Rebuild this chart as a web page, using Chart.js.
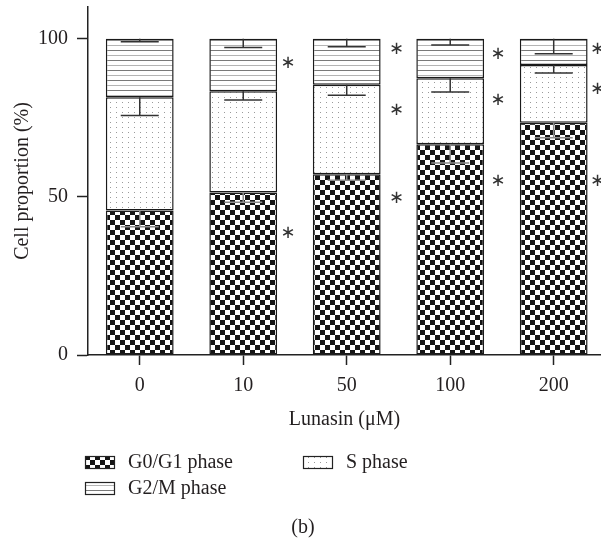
<!doctype html>
<html>

<head>
	<title>Cell cycle distribution</title>
	<script src="https://cdn.jsdelivr.net/npm/chart.js@4.4.1/dist/chart.umd.min.js"></script>
	<style>
		html, body {
			margin: 0;
			padding: 0;
			background: #fff;
		}
		canvas {
			display: block;
		}
	</style>
</head>

<body>
	<canvas id="chart" width="601" height="545"></canvas>
	<script>
		var categories = ['0', '10', '50', '100', '200'];
		var seriesNames = ['G0/G1 phase', 'S phase', 'G2/M phase'];
		var g0g1 = [45.7, 51.4, 57.1, 66.6, 73.4];
		var sPhase = [35.8, 32.0, 28.3, 20.9, 18.3];
		var g2m = [18.5, 16.6, 14.6, 12.5, 8.3];
		var g0g1Err = [5.2, 3.1, 1.9, 5.9, 4.7];
		var sPhaseErr = [5.8, 2.8, 3.3, 4.4, 2.6];
		var g2mErr = [1.0, 2.8, 2.6, 2.0, 4.8];
		var yTicks = [0, 50, 100];
		// significance marks: [category index, value on y axis]
		var stars = [[1, 92.1], [1, 38.5], [2, 96.5], [2, 77.3], [2, 49.5],
			[3, 95.0], [3, 80.4], [3, 54.9], [4, 96.5], [4, 83.9], [4, 54.9]];

		var FONT = "'Liberation Serif', 'Times New Roman', serif";
		var INK = '#231f20';

		function makePattern(w, h, draw) {
			var c = document.createElement('canvas');
			c.width = w;
			c.height = h;
			var x = c.getContext('2d');
			x.fillStyle = '#fff';
			x.fillRect(0, 0, w, h);
			draw(x);
			return x.createPattern(c, 'repeat');
		}

		var checker = makePattern(10, 10, function(x) {
			x.fillStyle = '#151515';
			x.fillRect(0, 0, 5, 5);
			x.fillRect(5, 5, 5, 5);
		});
		var dots = makePattern(6, 5, function(x) {
			x.fillStyle = '#9a9a9a';
			x.fillRect(2, 2, 1, 1);
		});
		var lines = makePattern(4, 10, function(x) {
			x.fillStyle = '#7a7a7a';
			x.fillRect(0, 0, 4, 1);
			x.fillStyle = '#b4b4b4';
			x.fillRect(0, 5, 4, 1);
		});

		function toPoints(values) {
			return values.map(function(v, i) {
				return {x: i, y: v};
			});
		}

		var seriesValues = [g0g1, sPhase, g2m];
		var seriesErrors = [g0g1Err, sPhaseErr, g2mErr];
		var fills = [checker, dots, lines];

		var extras = {
			id: 'extras',
			afterDatasetsDraw: function(chart) {
				var ctx = chart.ctx;
				var yScale = chart.scales.y;

				// error bars, drawn down from the top of each segment
				ctx.save();
				ctx.lineWidth = 1.5;
				seriesValues.forEach(function(vals, d) {
					var meta = chart.getDatasetMeta(d);
					ctx.strokeStyle = d === 0 ? '#8c8c8c' : '#333';
					vals.forEach(function(v, i) {
						var cum = 0;
						for (var k = 0; k <= d; k++) cum += seriesValues[k][i];
						var x = meta.data[i].x;
						var y0 = yScale.getPixelForValue(cum);
						var y1 = yScale.getPixelForValue(cum - seriesErrors[d][i]);
						ctx.beginPath();
						ctx.moveTo(x, y0);
						ctx.lineTo(x, y1);
						ctx.moveTo(x - 19, y1);
						ctx.lineTo(x + 19, y1);
						ctx.stroke();
					});
				});
				ctx.restore();
			},
			afterDraw: function(chart) {
				var ctx = chart.ctx;
				var yScale = chart.scales.y;
				var meta = chart.getDatasetMeta(0);
				var starGap = [0, 11, 16, 14, 10];

				ctx.save();
				ctx.fillStyle = '#333';
				ctx.font = "18px 'DejaVu Sans'";
				ctx.textAlign = 'center';
				ctx.textBaseline = 'middle';
				stars.forEach(function(s) {
					var bar = meta.data[s[0]];
					var x = bar.x + bar.width / 2 + starGap[s[0]];
					ctx.fillText('\u2217', x, yScale.getPixelForValue(s[1]));
				});

				// legend in two columns
				var items = [[0, 85, 456], [1, 303, 456], [2, 85, 482]];
				ctx.font = '20px ' + FONT;
				ctx.textAlign = 'left';
				items.forEach(function(it) {
					var ds = chart.data.datasets[it[0]];
					ctx.fillStyle = ds.backgroundColor;
					ctx.fillRect(it[1], it[2], 30, 13);
					ctx.strokeStyle = '#222';
					ctx.lineWidth = 1.2;
					ctx.strokeRect(it[1] + 0.5, it[2] + 0.5, 29, 12);
					ctx.fillStyle = INK;
					ctx.fillText(ds.label, it[1] + 43, it[2] + 7);
				});

				ctx.textAlign = 'center';
				ctx.fillText('(b)', 303, 528);
				ctx.restore();
			}
		};

		new Chart(document.getElementById('chart'), {
			type: 'bar',
			data: {
				datasets: seriesNames.map(function(name, d) {
					return {
						label: name,
						data: toPoints(seriesValues[d]),
						backgroundColor: fills[d],
						borderColor: '#1a1a1a',
						borderWidth: 1.5,
						borderSkipped: false,
						categoryPercentage: 1,
						barPercentage: 0.655
					};
				})
			},
			options: {
				responsive: false,
				animation: false,
				layout: {
					padding: {top: 7, right: 0, bottom: 110, left: 0}
				},
				plugins: {
					legend: {display: false},
					tooltip: {enabled: false}
				},
				scales: {
					x: {
						type: 'linear',
						stacked: true,
						offset: false,
						min: -0.5,
						max: 4.457,
						afterBuildTicks: function(scale) {
							scale.ticks = categories.map(function(c, i) {
								return {value: i};
							});
						},
						afterFit: function(scale) {
							scale.height = 80;
							scale.paddingLeft = 0;
							scale.paddingRight = 0;
						},
						grid: {
							drawOnChartArea: false,
							offset: false,
							tickLength: 10,
							tickWidth: 1.5,
							tickColor: '#222'
						},
						border: {color: '#222', width: 1.5},
						ticks: {
							color: INK,
							padding: 9,
							font: {family: FONT, size: 20},
							callback: function(v) {
								return categories[v];
							}
						},
						title: {
							display: true,
							text: 'Lunasin (\u03bcM)',
							color: INK,
							font: {family: FONT, size: 20},
							padding: {top: 0, bottom: 3}
						}
					},
					y: {
						stacked: true,
						min: 0,
						max: 110,
						afterBuildTicks: function(scale) {
							scale.ticks = yTicks.map(function(v) {
								return {value: v};
							});
						},
						afterFit: function(scale) {
							scale.width = 88;
							scale.paddingTop = 0;
							scale.paddingBottom = 0;
						},
						grid: {
							drawOnChartArea: false,
							tickLength: 11,
							tickWidth: 1.5,
							tickColor: '#222'
						},
						border: {color: '#222', width: 1.5},
						ticks: {
							color: INK,
							padding: 9,
							font: {family: FONT, size: 20}
						},
						title: {
							display: true,
							text: 'Cell proportion (%)',
							color: INK,
							font: {family: FONT, size: 20},
							padding: {top: 11, bottom: 0}
						}
					}
				}
			},
			plugins: [extras]
		});
	</script>
</body>

</html>
